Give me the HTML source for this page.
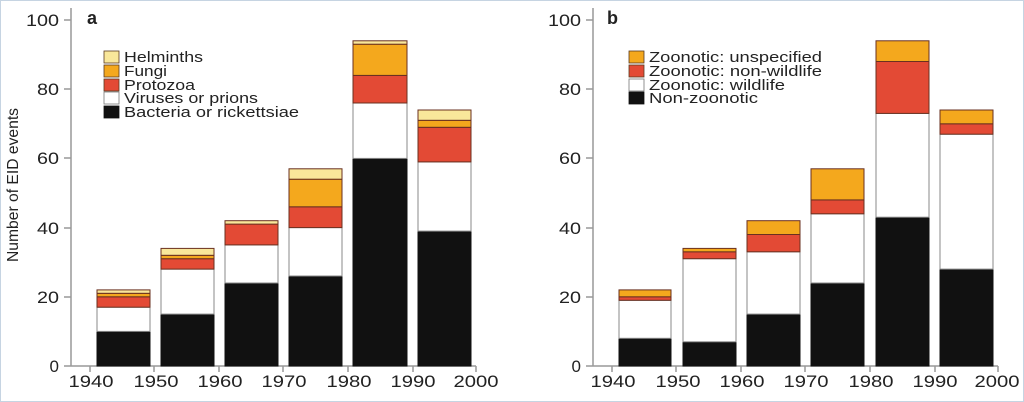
<!DOCTYPE html>
<html><head><meta charset="utf-8"><style>
html,body{margin:0;padding:0;background:#fff;}
svg{display:block;font-family:"Liberation Sans",sans-serif;}
</style></head><body>
<svg width="1024" height="402" viewBox="0 0 1024 402" xmlns="http://www.w3.org/2000/svg">
<rect x="0.5" y="0.5" width="1023" height="401" fill="#fff" stroke="#c6d4e2"/>
<g stroke="#999" stroke-width="1.5">
<line x1="71" y1="8" x2="71" y2="366"/><line x1="71" y1="366" x2="476" y2="366"/>
<line x1="64" y1="366" x2="71" y2="366"/><line x1="64" y1="297" x2="71" y2="297"/><line x1="64" y1="228" x2="71" y2="228"/><line x1="64" y1="158" x2="71" y2="158"/><line x1="64" y1="89" x2="71" y2="89"/><line x1="64" y1="20" x2="71" y2="20"/>
<line x1="90" y1="366" x2="90" y2="372"/><line x1="154" y1="366" x2="154" y2="372"/><line x1="219" y1="366" x2="219" y2="372"/><line x1="283" y1="366" x2="283" y2="372"/><line x1="348" y1="366" x2="348" y2="372"/><line x1="413" y1="366" x2="413" y2="372"/><line x1="476" y1="366" x2="476" y2="372"/>
<line x1="593" y1="8" x2="593" y2="366"/><line x1="593" y1="366" x2="998" y2="366"/>
<line x1="586" y1="366" x2="593" y2="366"/><line x1="586" y1="297" x2="593" y2="297"/><line x1="586" y1="228" x2="593" y2="228"/><line x1="586" y1="158" x2="593" y2="158"/><line x1="586" y1="89" x2="593" y2="89"/><line x1="586" y1="20" x2="593" y2="20"/>
<line x1="612" y1="366" x2="612" y2="372"/><line x1="676" y1="366" x2="676" y2="372"/><line x1="741" y1="366" x2="741" y2="372"/><line x1="805" y1="366" x2="805" y2="372"/><line x1="870" y1="366" x2="870" y2="372"/><line x1="935" y1="366" x2="935" y2="372"/><line x1="998" y1="366" x2="998" y2="372"/>
</g>
<g font-size="17" fill="#222" text-anchor="end">
<text x="59" y="372">0</text><text x="59" y="303" textLength="22" lengthAdjust="spacingAndGlyphs">20</text><text x="59" y="234" textLength="22" lengthAdjust="spacingAndGlyphs">40</text><text x="59" y="164" textLength="22" lengthAdjust="spacingAndGlyphs">60</text><text x="59" y="95" textLength="22" lengthAdjust="spacingAndGlyphs">80</text><text x="59" y="26" textLength="33" lengthAdjust="spacingAndGlyphs">100</text>
<text x="581" y="372">0</text><text x="581" y="303" textLength="22" lengthAdjust="spacingAndGlyphs">20</text><text x="581" y="234" textLength="22" lengthAdjust="spacingAndGlyphs">40</text><text x="581" y="164" textLength="22" lengthAdjust="spacingAndGlyphs">60</text><text x="581" y="95" textLength="22" lengthAdjust="spacingAndGlyphs">80</text><text x="581" y="26" textLength="33" lengthAdjust="spacingAndGlyphs">100</text>
</g>
<g font-size="17" fill="#222" text-anchor="middle">
<text x="91" y="387" textLength="45" lengthAdjust="spacingAndGlyphs">1940</text><text x="156" y="387" textLength="45" lengthAdjust="spacingAndGlyphs">1950</text><text x="220" y="387" textLength="45" lengthAdjust="spacingAndGlyphs">1960</text><text x="284" y="387" textLength="45" lengthAdjust="spacingAndGlyphs">1970</text><text x="349" y="387" textLength="45" lengthAdjust="spacingAndGlyphs">1980</text><text x="413" y="387" textLength="45" lengthAdjust="spacingAndGlyphs">1990</text><text x="476" y="387" textLength="45" lengthAdjust="spacingAndGlyphs">2000</text>
<text x="613" y="387" textLength="45" lengthAdjust="spacingAndGlyphs">1940</text><text x="678" y="387" textLength="45" lengthAdjust="spacingAndGlyphs">1950</text><text x="742" y="387" textLength="45" lengthAdjust="spacingAndGlyphs">1960</text><text x="806" y="387" textLength="45" lengthAdjust="spacingAndGlyphs">1970</text><text x="871" y="387" textLength="45" lengthAdjust="spacingAndGlyphs">1980</text><text x="935" y="387" textLength="45" lengthAdjust="spacingAndGlyphs">1990</text><text x="997" y="387" textLength="45" lengthAdjust="spacingAndGlyphs">2000</text>
</g>
<text x="18" y="185" font-size="16" fill="#222" text-anchor="middle" transform="rotate(-90 18 185)" textLength="154" lengthAdjust="spacingAndGlyphs">Number of EID events</text>
<text x="87" y="24" font-size="18" font-weight="bold" fill="#222">a</text>
<text x="607" y="24" font-size="18" font-weight="bold" fill="#222">b</text>
<g font-size="15" fill="#222">
<rect x="104" y="51" width="15" height="12" fill="#f9e79a" stroke="#5a3a20" stroke-width="0.8"/><text x="124" y="62" textLength="79" lengthAdjust="spacingAndGlyphs">Helminths</text>
<rect x="104" y="65" width="15" height="12" fill="#f4a81d" stroke="#5a3a20" stroke-width="0.8"/><text x="124" y="76" textLength="43" lengthAdjust="spacingAndGlyphs">Fungi</text>
<rect x="104" y="79" width="15" height="12" fill="#e34a35" stroke="#5a3a20" stroke-width="0.8"/><text x="124" y="90" textLength="71" lengthAdjust="spacingAndGlyphs">Protozoa</text>
<rect x="104" y="92" width="15" height="12" fill="#fff" stroke="#777" stroke-width="0.8"/><text x="124" y="103" textLength="134" lengthAdjust="spacingAndGlyphs">Viruses or prions</text>
<rect x="104" y="106" width="15" height="12" fill="#111" stroke="#111" stroke-width="0.8"/><text x="124" y="117" textLength="175" lengthAdjust="spacingAndGlyphs">Bacteria or rickettsiae</text>
<rect x="629" y="51" width="15" height="12" fill="#f4a81d" stroke="#5a3a20" stroke-width="0.8"/><text x="649" y="62" textLength="173" lengthAdjust="spacingAndGlyphs">Zoonotic: unspecified</text>
<rect x="629" y="65" width="15" height="12" fill="#e34a35" stroke="#5a3a20" stroke-width="0.8"/><text x="649" y="76" textLength="173" lengthAdjust="spacingAndGlyphs">Zoonotic: non-wildlife</text>
<rect x="629" y="79" width="15" height="12" fill="#fff" stroke="#777" stroke-width="0.8"/><text x="649" y="90" textLength="136" lengthAdjust="spacingAndGlyphs">Zoonotic: wildlife</text>
<rect x="629" y="92" width="15" height="12" fill="#111" stroke="#111" stroke-width="0.8"/><text x="649" y="103" textLength="109" lengthAdjust="spacingAndGlyphs">Non-zoonotic</text>
</g>
<g stroke-width="1">
<rect x="97" y="331.4" width="53" height="34.6" fill="#111" stroke="#111"/>
<rect x="97" y="307.2" width="53" height="24.2" fill="#fff" stroke="#888"/>
<rect x="97" y="296.8" width="53" height="10.4" fill="#e34a35" stroke="#6a3020"/>
<rect x="97" y="293.3" width="53" height="3.5" fill="#f4a81d" stroke="#6a3020"/>
<rect x="97" y="289.9" width="53" height="3.4" fill="#f9e79a" stroke="#6a3020"/>
<rect x="161" y="314.1" width="53" height="51.9" fill="#111" stroke="#111"/>
<rect x="161" y="269.1" width="53" height="45" fill="#fff" stroke="#888"/>
<rect x="161" y="258.7" width="53" height="10.4" fill="#e34a35" stroke="#6a3020"/>
<rect x="161" y="255.3" width="53" height="3.4" fill="#f4a81d" stroke="#6a3020"/>
<rect x="161" y="248.4" width="53" height="6.9" fill="#f9e79a" stroke="#6a3020"/>
<rect x="225" y="283" width="53" height="83" fill="#111" stroke="#111"/>
<rect x="225" y="244.9" width="53" height="38.1" fill="#fff" stroke="#888"/>
<rect x="225" y="224.1" width="53" height="20.8" fill="#e34a35" stroke="#6a3020"/>
<rect x="225" y="220.7" width="53" height="3.4" fill="#f9e79a" stroke="#6a3020"/>
<rect x="289" y="276" width="53" height="90" fill="#111" stroke="#111"/>
<rect x="289" y="227.6" width="53" height="48.4" fill="#fff" stroke="#888"/>
<rect x="289" y="206.8" width="53" height="20.8" fill="#e34a35" stroke="#6a3020"/>
<rect x="289" y="179.2" width="53" height="27.6" fill="#f4a81d" stroke="#6a3020"/>
<rect x="289" y="168.8" width="53" height="10.4" fill="#f9e79a" stroke="#6a3020"/>
<rect x="353" y="158.4" width="54" height="207.6" fill="#111" stroke="#111"/>
<rect x="353" y="103" width="54" height="55.4" fill="#fff" stroke="#888"/>
<rect x="353" y="75.4" width="54" height="27.6" fill="#e34a35" stroke="#6a3020"/>
<rect x="353" y="44.2" width="54" height="31.2" fill="#f4a81d" stroke="#6a3020"/>
<rect x="353" y="40.8" width="54" height="3.4" fill="#f9e79a" stroke="#6a3020"/>
<rect x="418" y="231.1" width="53" height="134.9" fill="#111" stroke="#111"/>
<rect x="418" y="161.9" width="53" height="69.2" fill="#fff" stroke="#888"/>
<rect x="418" y="127.3" width="53" height="34.6" fill="#e34a35" stroke="#6a3020"/>
<rect x="418" y="120.3" width="53" height="7" fill="#f4a81d" stroke="#6a3020"/>
<rect x="418" y="110" width="53" height="10.3" fill="#f9e79a" stroke="#6a3020"/>
<rect x="619" y="338.3" width="52" height="27.7" fill="#111" stroke="#111"/>
<rect x="619" y="300.3" width="52" height="38" fill="#fff" stroke="#888"/>
<rect x="619" y="296.8" width="52" height="3.5" fill="#e34a35" stroke="#6a3020"/>
<rect x="619" y="289.9" width="52" height="6.9" fill="#f4a81d" stroke="#6a3020"/>
<rect x="683" y="341.8" width="53" height="24.2" fill="#111" stroke="#111"/>
<rect x="683" y="258.7" width="53" height="83.1" fill="#fff" stroke="#888"/>
<rect x="683" y="251.8" width="53" height="6.9" fill="#e34a35" stroke="#6a3020"/>
<rect x="683" y="248.4" width="53" height="3.4" fill="#f4a81d" stroke="#6a3020"/>
<rect x="747" y="314.1" width="53" height="51.9" fill="#111" stroke="#111"/>
<rect x="747" y="251.8" width="53" height="62.3" fill="#fff" stroke="#888"/>
<rect x="747" y="234.5" width="53" height="17.3" fill="#e34a35" stroke="#6a3020"/>
<rect x="747" y="220.7" width="53" height="13.8" fill="#f4a81d" stroke="#6a3020"/>
<rect x="811" y="283" width="53" height="83" fill="#111" stroke="#111"/>
<rect x="811" y="213.8" width="53" height="69.2" fill="#fff" stroke="#888"/>
<rect x="811" y="199.9" width="53" height="13.9" fill="#e34a35" stroke="#6a3020"/>
<rect x="811" y="168.8" width="53" height="31.1" fill="#f4a81d" stroke="#6a3020"/>
<rect x="876" y="217.2" width="53" height="148.8" fill="#111" stroke="#111"/>
<rect x="876" y="113.4" width="53" height="103.8" fill="#fff" stroke="#888"/>
<rect x="876" y="61.5" width="53" height="51.9" fill="#e34a35" stroke="#6a3020"/>
<rect x="876" y="40.8" width="53" height="20.7" fill="#f4a81d" stroke="#6a3020"/>
<rect x="940" y="269.1" width="53" height="96.9" fill="#111" stroke="#111"/>
<rect x="940" y="134.2" width="53" height="134.9" fill="#fff" stroke="#888"/>
<rect x="940" y="123.8" width="53" height="10.4" fill="#e34a35" stroke="#6a3020"/>
<rect x="940" y="110" width="53" height="13.8" fill="#f4a81d" stroke="#6a3020"/>
</g>
</svg>
</body></html>
